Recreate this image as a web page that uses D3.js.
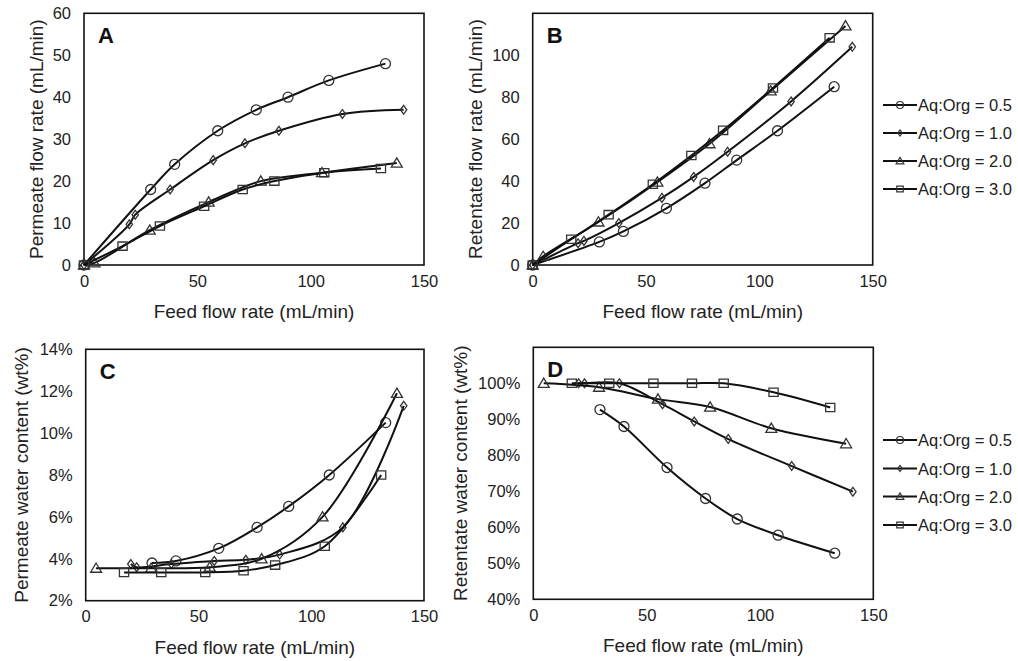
<!DOCTYPE html>
<html>
<head>
<meta charset="utf-8">
<script src="https://cdn.jsdelivr.net/npm/d3@7"></script>
<style>
 body { margin: 0; background: #fff; }
 svg { display: block; font-family: "Liberation Sans", Arial, sans-serif; }
 .tick text { fill: #222; }
</style>
</head>
<body>
<div id="chart"></div>
<script>
// ratios (Aq:Org) and marker shapes
var ratios = ["0.5", "1.0", "2.0", "3.0"]
var shapes = ["circle", "diamond", "triangle", "square"]

// feed flow rate (mL/min) per series
var feed05 = [0, 29.4, 40, 59, 76, 90, 108, 133]
var feed10 = [0, 20, 22.6, 38, 57, 71, 86, 114, 141]
var feed20 = [0, 4.6, 29, 55, 78, 105, 138]
var feed30 = [0, 17, 33.5, 53, 70, 84, 106, 131]

// A: permeate flow rate (mL/min)
var perm05 = [0, 18, 24, 32, 37, 40, 44, 48]
var perm10 = [0, 9.7, 12, 18, 25, 29, 32, 36, 37]
var perm20 = [0, 0.5, 8.3, 15, 20, 22, 24.3]
var perm30 = [0, 4.5, 9.3, 14, 18, 20, 22, 23]

// B: retentate flow rate (mL/min)
var ret05 = [0, 11, 16, 27, 39, 50, 64, 85]
var ret10 = [0, 10.4, 11.5, 20, 32, 42, 54, 78, 104]
var ret20 = [0, 4.1, 20.5, 39.5, 57.8, 83, 114]
var ret30 = [0, 12.3, 24, 38.5, 52.2, 64.2, 84.4, 108.3]

// C: permeate water content (wt%)
var permW05 = [null, 3.8, 3.9, 4.5, 5.5, 6.5, 8.0, 10.5]
var permW10 = [null, 3.75, 3.6, 3.75, 3.9, 3.95, 4.2, 5.5, 11.3]
var permW20 = [null, 3.55, 3.55, 3.6, 4.0, 6.0, 11.9]
var permW30 = [null, 3.35, 3.35, 3.35, 3.43, 3.7, 4.6, 8.0]

// D: retentate water content (wt%)
var retW05 = [null, 92.7, 88, 76.6, 68, 62.3, 57.8, 52.8]
var retW10 = [null, 100, 100, 100, 94.2, 89.4, 84.5, 77, 69.9]
var retW20 = [null, 100, 98.9, 95.6, 93.4, 87.5, 83.2]
var retW30 = [null, 100, 100, 100, 100, 100, 97.5, 93.3]

var xTicks = [0, 50, 100, 150]
var yTicksA = [0, 10, 20, 30, 40, 50, 60]
var yTicksB = [0, 20, 40, 60, 80, 100]
var yTicksC = [2, 4, 6, 8, 10, 12, 14]
var yTicksD = [40, 50, 60, 70, 80, 90, 100]

var feeds = [feed05, feed10, feed20, feed30]

var panels = [
 {label: "A", box: [84, 13.3, 424, 265], ydom: [0, 60], yticks: yTicksA, fmt: d => d,
  title: "Permeate flow rate (mL/min)", titleX: 36, ys: [perm05, perm10, perm20, perm30]},
 {label: "B", box: [532.7, 13.3, 872.7, 265], ydom: [0, 120], yticks: yTicksB, fmt: d => d,
  title: "Retentate flow rate (mL/min)", titleX: 475, ys: [ret05, ret10, ret20, ret30]},
 {label: "C", box: [85.7, 349.3, 424, 600.7], ydom: [2, 14], yticks: yTicksC, fmt: d => d + "%",
  title: "Permeate water content (wt%)", titleX: 21, ys: [permW05, permW10, permW20, permW30]},
 {label: "D", box: [533.3, 347.3, 873.3, 599.3], ydom: [40, 110], yticks: yTicksD, fmt: d => d + "%",
  title: "Retentate water content (wt%)", titleX: 460, ys: [retW05, retW10, retW20, retW30]}
]

var legendRows = [[105, 133, 161, 189], [440, 468.5, 496.5, 525]]

var w = 1018
var h = 661

var svg = d3.select("#chart").append("svg")
 .attr("width", w)
 .attr("height", h)

function marker(shape, s) {
 // s = half size
 if (shape == "circle") return d3.path().arc ? circlePath(s) : ""
 if (shape == "diamond") return "M0," + (-s * 1.1) + "L" + (s * 0.8) + ",0L0," + (s * 1.1) + "L" + (-s * 0.8) + ",0Z"
 if (shape == "triangle") return "M0," + (-s * 1.05) + "L" + (s * 1.1) + "," + (s * 0.8) + "L" + (-s * 1.1) + "," + (s * 0.8) + "Z"
 return "M" + (-s) + "," + (-s * 0.9) + "H" + s + "V" + (s * 0.9) + "H" + (-s) + "Z"
}
function circlePath(r) {
 var p = d3.path()
 p.moveTo(r, 0)
 p.arc(0, 0, r, 0, 2 * Math.PI)
 p.closePath()
 return p.toString()
}
var markerSize = {circle: 5, diamond: 4, triangle: 5, square: 4.6}

panels.forEach(function(p) {
 var x0 = p.box[0], y0 = p.box[1], x1 = p.box[2], y1 = p.box[3]
 var xScale = d3.scaleLinear().domain([0, 150]).range([x0, x1])
 var yScale = d3.scaleLinear().domain(p.ydom).range([y1, y0])

 var g = svg.append("g")

 var xAxis = d3.axisBottom(xScale).tickValues(xTicks).tickSize(0).tickPadding(10)
 var yAxis = d3.axisLeft(yScale).tickValues(p.yticks).tickSize(0).tickPadding(13).tickFormat(p.fmt)

 var gx = g.append("g").attr("transform", "translate(0," + y1 + ")").call(xAxis)
 var gy = g.append("g").attr("transform", "translate(" + x0 + ",0)").call(yAxis)
 gx.select(".domain").remove()
 gy.select(".domain").remove()
 g.selectAll(".tick text").attr("font-size", 16.5).attr("font-family", "Liberation Sans, Arial, sans-serif")
 gx.selectAll(".tick text").attr("dy", "0.71em")

 g.append("rect")
   .attr("x", x0).attr("y", y0)
   .attr("width", x1 - x0).attr("height", y1 - y0)
   .attr("fill", "none").attr("stroke", "#111").attr("stroke-width", 1.6)

 g.append("text")
   .attr("x", (x0 + x1) / 2).attr("y", y1 + 53)
   .attr("text-anchor", "middle").attr("font-size", 19).attr("fill", "#222")
   .text("Feed flow rate (mL/min)")

 g.append("text")
   .attr("transform", "translate(" + p.titleX + "," + ((y0 + y1) / 2) + ") rotate(-90)")
   .attr("text-anchor", "middle").attr("dominant-baseline", "central")
   .attr("font-size", 19).attr("fill", "#222")
   .text(p.title)

 g.append("text")
   .attr("x", x0 + 14).attr("y", y0 + 30)
   .attr("font-size", 22).attr("font-weight", "bold").attr("fill", "#111")
   .text(p.label)

 var line = d3.line()
   .defined(d => d[1] != null)
   .x(d => xScale(d[0]))
   .y(d => yScale(d[1]))
   .curve(d3.curveCatmullRom.alpha(0.5))

 p.ys.forEach(function(ys, i) {
   var pts = feeds[i].map((f, j) => [f, ys[j]]).filter(d => d[1] != null)
   g.append("path")
     .datum(pts)
     .attr("fill", "none")
     .attr("stroke", "#111")
     .attr("stroke-width", 2)
     .attr("d", line)

   g.selectAll(".m" + i)
     .data(pts)
     .enter()
     .append("path")
     .attr("class", "m" + i)
     .attr("transform", d => "translate(" + xScale(d[0]) + "," + yScale(d[1]) + ")")
     .attr("d", marker(shapes[i], markerSize[shapes[i]]))
     .attr("fill", "none")
     .attr("stroke", "#333")
     .attr("stroke-width", 1.3)
 })
})

// legends
legendRows.forEach(function(rows) {
 var lg = svg.append("g")
 ratios.forEach(function(r, i) {
   var y = rows[i]
   lg.append("line")
     .attr("x1", 883).attr("x2", 917).attr("y1", y).attr("y2", y)
     .attr("stroke", "#111").attr("stroke-width", 2)
   lg.append("path")
     .attr("transform", "translate(900," + y + ")")
     .attr("d", marker(shapes[i], markerSize[shapes[i]] * 0.7))
     .attr("fill", "none").attr("stroke", "#333").attr("stroke-width", 1.2)
   lg.append("text")
     .attr("x", 918).attr("y", y)
     .attr("dominant-baseline", "central")
     .attr("font-size", 16.5).attr("fill", "#222")
     .text("Aq:Org = " + r)
 })
})
</script>
</body>
</html>
